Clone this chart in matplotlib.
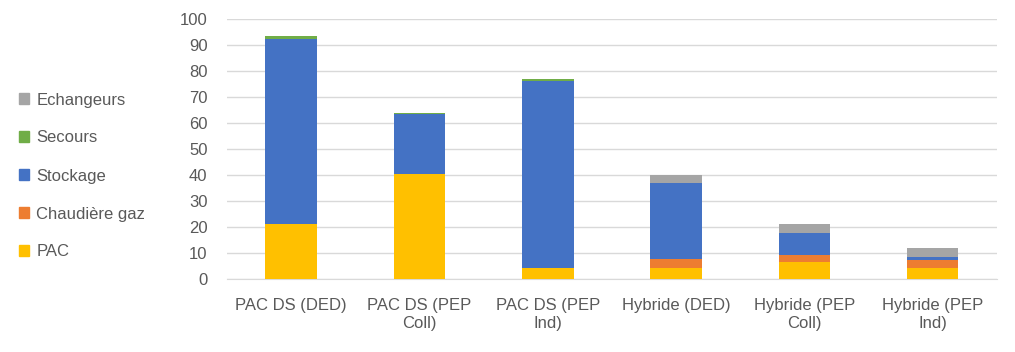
"""Stacked bars: cost breakdown per configuration.
"""
import numpy as np
import matplotlib.pyplot as plt
from matplotlib.patches import Patch

plt.rcParams["font.family"] = ["Liberation Sans", "DejaVu Sans"]

#### Data.
categories = ["PAC DS (DED)", "PAC DS (PEP\nColl)", "PAC DS (PEP\nInd)",
              "Hybride (DED)", "Hybride (PEP\nColl)", "Hybride (PEP\nInd)"]
pac = [21.2, 40.4, 4.4, 4.4, 6.4, 4.4]
chaudiere_gaz = [0.0, 0.0, 0.0, 3.4, 2.9, 3.0]
stockage = [71.2, 23.2, 71.8, 29.0, 8.5, 0.9]
secours = [1.1, 0.2, 0.7, 0.0, 0.0, 0.0]
echangeurs = [0.0, 0.0, 0.0, 3.2, 3.2, 3.6]

series = [("PAC", pac, "#FFC000"),
          ("Chaudière gaz", chaudiere_gaz, "#ED7D31"),
          ("Stockage", stockage, "#4472C4"),
          ("Secours", secours, "#70AD47"),
          ("Echangeurs", echangeurs, "#A5A5A5")]

TEXT_COLOR = "#595959"
FONTSIZE = 12

#### Draw.
fig = plt.figure(figsize=(10.15, 3.52), dpi=100)
ax = fig.add_axes([227 / 1015, 73 / 352, 770 / 1015, 260 / 352])

x = np.arange(len(categories))
bottom = np.zeros(len(categories))
for name, vals, color in series:
    vals = np.array(vals)
    ax.bar(x, vals, bottom=bottom, width=0.4, color=color, label=name, zorder=3)
    bottom += vals

# aesthetics
ax.set_xlim(-0.5, len(categories) - 0.5)
ax.set_ylim(0, 100)
ax.set_yticks(np.arange(0, 101, 10))
ax.set_xticks(x)
ax.set_xticklabels(categories, linespacing=1.25)
ax.grid(True, axis="y", color="#D9D9D9", linewidth=1, zorder=0)
for side in ["top", "right", "left"]:
    ax.spines[side].set_visible(False)
ax.spines["bottom"].set_color("#D9D9D9")
ax.tick_params(axis="both", length=0, labelsize=FONTSIZE, labelcolor=TEXT_COLOR)
ax.tick_params(axis="y", pad=14)
ax.tick_params(axis="x", pad=14)

# legend on the left, reversed order
handles = [Patch(color=c, label=n) for n, _, c in series][::-1]
fig.legend(handles=handles, loc="center left", bbox_to_anchor=(19 / 1015, 0.5),
           frameon=False, fontsize=FONTSIZE, labelcolor=TEXT_COLOR,
           borderpad=0, borderaxespad=0,
           handlelength=0.6, handleheight=0.6, handletextpad=0.45, labelspacing=1.38)

#### Export
plt.savefig("out.png", dpi=100)
plt.close()
